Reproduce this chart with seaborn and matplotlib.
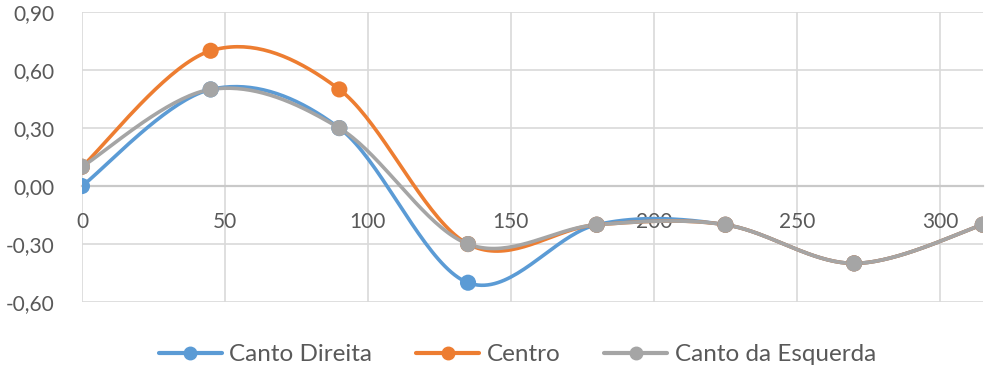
import numpy as np
import pandas as pd
import matplotlib
matplotlib.use("Agg")
import matplotlib.pyplot as plt
from matplotlib.lines import Line2D
from matplotlib.ticker import FuncFormatter
import seaborn as sns

# ------------------------------------------------------------
# data
# ------------------------------------------------------------
angles = [0, 45, 90, 135, 180, 225, 270, 315]
canto_direita = [0.0, 0.5, 0.3, -0.5, -0.2, -0.2, -0.4, -0.2]
centro = [0.1, 0.7, 0.5, -0.3, -0.2, -0.2, -0.4, -0.2]
canto_esquerda = [0.1, 0.5, 0.3, -0.3, -0.2, -0.2, -0.4, -0.2]

series_names = ["Canto Direita", "Centro", "Canto da Esquerda"]
series_values = [canto_direita, centro, canto_esquerda]
colors = ["#5B9BD5", "#ED7D31", "#A5A5A5"]

x_ticks = [0, 50, 100, 150, 200, 250, 300]
y_ticks = [-0.6, -0.3, 0.0, 0.3, 0.6, 0.9]


def smooth(xs, ys, n=40):
    """Excel-like smoothed line: Catmull-Rom style cubic Bezier segments."""
    pts = np.column_stack([xs, ys]).astype(float)
    out = []
    for i in range(len(pts) - 1):
        p0 = pts[i - 1] if i > 0 else pts[i]
        p1, p2 = pts[i], pts[i + 1]
        p3 = pts[i + 2] if i + 2 < len(pts) else pts[i + 1]
        c1 = p1 + (p2 - p0) / 6
        c2 = p2 - (p3 - p1) / 6
        t = np.linspace(0, 1, n)[:, None]
        seg = ((1 - t) ** 3) * p1 + 3 * ((1 - t) ** 2) * t * c1 \
            + 3 * (1 - t) * t ** 2 * c2 + t ** 3 * p2
        out.append(seg if i == 0 else seg[1:])
    return np.vstack(out)


sns.set_style("white")
plt.rcParams["font.family"] = ["Lato", "DejaVu Sans"]
plt.rcParams["xtick.major.pad"] = 19
plt.rcParams["ytick.major.pad"] = 20

fig = plt.figure(figsize=(9.91, 3.67), dpi=100)
ax = fig.add_axes([0.0827, 0.177, 0.909, 0.790])

for name, vals, col in zip(series_names, series_values, colors):
    curve = smooth(angles, vals)
    df_line = pd.DataFrame({"x": curve[:, 0], "y": curve[:, 1]})
    sns.lineplot(data=df_line, x="x", y="y", sort=False, color=col,
                 linewidth=2.6, ax=ax, zorder=3)
    df_pts = pd.DataFrame({"x": angles, "y": vals})
    sns.scatterplot(data=df_pts, x="x", y="y", color=col, s=135,
                    edgecolor="none", ax=ax, zorder=4)

ax.set_xlim(0, 315)
ax.set_ylim(-0.6, 0.9)
ax.set_xticks(x_ticks)
ax.set_yticks(y_ticks)
ax.yaxis.set_major_formatter(FuncFormatter(lambda v, p: f"{v:.2f}".replace(".", ",")))
ax.grid(True, color="#D9D9D9", linewidth=1.2)
ax.set_axisbelow(True)
for side in ["top", "right", "left"]:
    ax.spines[side].set_visible(False)
# horizontal axis crosses at zero, slightly stronger than the grid
ax.spines["bottom"].set_position(("data", 0))
ax.spines["bottom"].set_color("#C9C9C9")
ax.spines["bottom"].set_linewidth(1.6)
ax.tick_params(axis="x", length=0, pad=19, labelsize=15, labelcolor="#595959")
ax.tick_params(axis="y", length=0, pad=20, labelsize=15, labelcolor="#595959")
ax.set_xlabel("")
ax.set_ylabel("")

handles = [Line2D([0], [0], color=c, lw=3, marker="o", markersize=9)
           for c in colors]
fig.legend(handles, series_names, loc="center", ncol=3,
           bbox_to_anchor=(0.522, 0.033), frameon=False, fontsize=17.5,
           handlelength=2.6, handletextpad=0.3, columnspacing=1.8,
           labelcolor="#595959")

fig.savefig("out.png", dpi=100)
